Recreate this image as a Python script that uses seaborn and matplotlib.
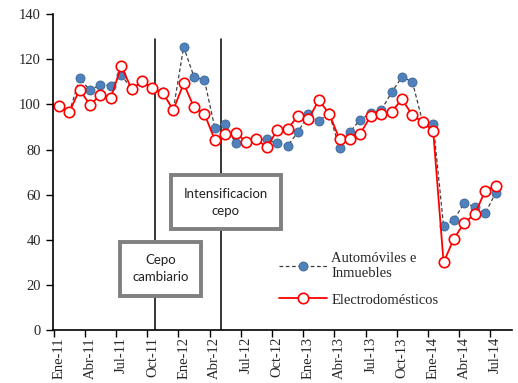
import pandas as pd
import seaborn as sns
import numpy as np
import matplotlib.pyplot as plt

months = ["Ene", "Feb", "Mar", "Abr", "May", "Jun", "Jul", "Ago", "Sep", "Oct", "Nov", "Dic"]
periods = [f"{m}-{y}" for y in ["11", "12", "13", "14"] for m in months][:43]

autos = [99.5, 96.5, 111.5, 106.3, 108.8, 108.3, 113.0, 107.0, 110.0, 107.0,
         105.3, 97.5, 125.5, 112.2, 110.8, 89.6, 91.4, 82.7, 83.5, 84.5,
         84.5, 82.7, 81.7, 87.8, 95.6, 92.7, 96.0, 80.5, 87.9, 93.3,
         96.2, 97.5, 105.3, 112.2, 110.0, 92.0, 91.5, 46.1, 49.0, 56.4,
         54.6, 51.7, 60.8]
electro = [99.5, 96.6, 106.6, 99.7, 104.4, 102.8, 117.0, 106.8, 110.2, 107.2,
           105.2, 97.5, 109.3, 98.7, 95.9, 84.2, 87.1, 87.4, 83.5, 84.6,
           81.0, 88.6, 89.3, 94.8, 93.5, 101.9, 95.9, 84.5, 84.8, 87.1,
           95.0, 95.7, 96.7, 102.3, 95.3, 92.2, 88.3, 30.0, 40.6, 47.6,
           51.4, 61.7, 63.9]

# event markers (position between months) and boxes
events = [9.23, 15.58]
event_labels = ["Cepo\ncambiario", "Intensificacion\ncepo"]

df = pd.DataFrame({"t": np.arange(len(periods)), "periodo": periods,
                   "autos": autos, "electro": electro})

sns.set_style("ticks")
plt.rcParams["font.family"] = ["Liberation Serif", "DejaVu Serif"]

fig = plt.figure(figsize=(5.18, 3.83), dpi=100)
ax = fig.add_axes([0.102, 0.138, 0.886, 0.825])

sns.lineplot(ax=ax, data=df, x="t", y="autos", color="#404040", lw=0.9,
             linestyle=(0, (3, 2)), marker="o", markersize=6.5,
             markerfacecolor="#4F81BD", markeredgecolor="#3A6594",
             markeredgewidth=0.6, label="Automóviles e\nInmuebles")
sns.lineplot(ax=ax, data=df, x="t", y="electro", color="red", lw=1.3,
             marker="o", markersize=7.5, markerfacecolor="white",
             markeredgecolor="red", markeredgewidth=1.2,
             label="Electrodomésticos")

for xe in events:
    ax.plot([xe, xe], [0, 129], color="black", lw=1.1, zorder=1)

box = dict(boxstyle="square,pad=0.95", fc="white", ec="#808080", lw=2.8)
ax.text(9.76, 27.2, event_labels[0], ha="center", va="center", fontsize=9.5,
        family="Lato", color="#222222", linespacing=1.5, bbox=box, zorder=5)
ax.text(16.06, 56.7, event_labels[1], ha="center", va="center", fontsize=9.5,
        family="Lato", color="#222222", linespacing=1.5, bbox=box, zorder=5)

ax.set_xlim(-0.58, 43.56)
ax.set_ylim(0, 140)
ax.set_yticks(range(0, 141, 20))
lab_pos = np.arange(0, 43, 3)
ax.set_xticks(lab_pos - 0.5)
ax.set_xticklabels([])
ax.set_xticks(lab_pos, minor=True)
ax.set_xticklabels([periods[i] for i in lab_pos], minor=True, rotation=90,
                   fontsize=10.5)
ax.tick_params(axis="x", which="minor", length=0, pad=5)
ax.tick_params(axis="x", which="major", length=5, width=1, direction="out", color="black")
ax.tick_params(axis="y", length=5, width=1, direction="out", labelsize=10.5, color="black")
ax.set_xlabel("")
ax.set_ylabel("")
for s in ["top", "right"]:
    ax.spines[s].set_visible(False)
for s in ["left", "bottom"]:
    ax.spines[s].set_color("black")
    ax.spines[s].set_linewidth(1.2)

ax.legend(loc="upper left", bbox_to_anchor=(0.48, 0.265), frameon=False,
          fontsize=10.5, handlelength=3.3, handletextpad=0.3,
          labelspacing=0.9, borderaxespad=0)

fig.savefig("out.png", dpi=100)
